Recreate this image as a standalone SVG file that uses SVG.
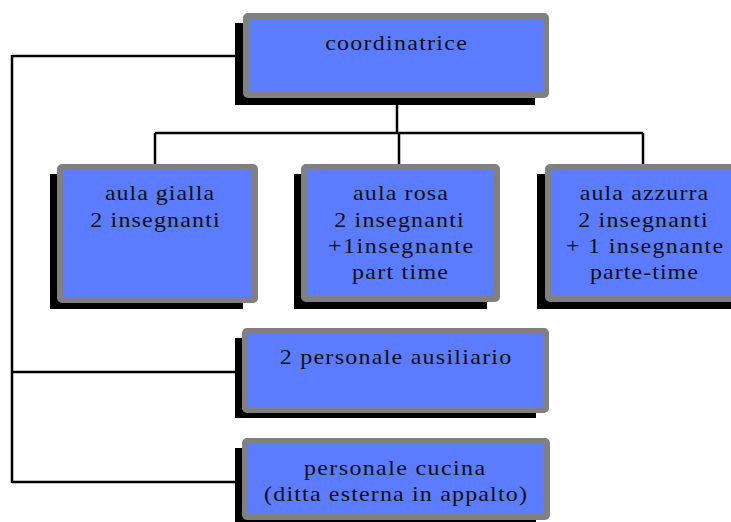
<svg xmlns="http://www.w3.org/2000/svg" width="731" height="522" viewBox="0 0 731 522">
<style>
.sh{fill:#000}
.bx{fill:#5C7CFF;stroke:#808080;stroke-width:6}
.t{font-family:"Liberation Serif","Times New Roman",serif;font-size:20px;fill:#111;text-anchor:middle}
.c{fill:none;stroke:#000;stroke-width:2.5}
</style>
<rect width="731" height="522" fill="#fff"/>
<g id="connectors">
<path class="c" d="M12,56 H236 M12,55 V483 M12,372 H236 M12,482 H236"/>
<path class="c" d="M397,98 V133 M155,133 H643 M155,133 V165 M399,133 V165 M643,133 V165"/>
</g>
<g id="coordinatrice">
<rect class="sh" x="235" y="23" width="300" height="82"/>
<rect class="bx" x="246" y="16" width="300" height="79" rx="2"/>
<text class="t" transform="translate(396,50) scale(1.2,1)" textLength="118" lengthAdjust="spacing">coordinatrice</text>
</g>
<g id="aula-gialla">
<rect class="sh" x="50" y="174" width="193" height="135"/>
<rect class="bx" x="60" y="167" width="195" height="133" rx="2"/>
<text class="t" transform="translate(159.5,200) scale(1.2,1)" textLength="91" lengthAdjust="spacing">aula gialla</text>
<text class="t" transform="translate(155,227) scale(1.2,1)" textLength="108" lengthAdjust="spacing">2 insegnanti</text>
</g>
<g id="aula-rosa">
<rect class="sh" x="294" y="174" width="193" height="135"/>
<rect class="bx" x="304" y="167" width="193" height="132" rx="2"/>
<text class="t" transform="translate(400.5,200) scale(1.2,1)" textLength="79" lengthAdjust="spacing">aula rosa</text>
<text class="t" transform="translate(399,227) scale(1.2,1)" textLength="108" lengthAdjust="spacing">2 insegnanti</text>
<text class="t" transform="translate(400.5,253) scale(1.2,1)" textLength="121" lengthAdjust="spacing">+1insegnante</text>
<text class="t" transform="translate(400,279) scale(1.2,1)" textLength="80" lengthAdjust="spacing">part time</text>
</g>
<g id="aula-azzurra">
<rect class="sh" x="537" y="174" width="200" height="135"/>
<rect class="bx" x="548" y="167" width="195" height="132" rx="2"/>
<text class="t" transform="translate(644,200) scale(1.2,1)" textLength="107" lengthAdjust="spacing">aula azzurra</text>
<text class="t" transform="translate(643,227) scale(1.2,1)" textLength="108" lengthAdjust="spacing">2 insegnanti</text>
<text class="t" transform="translate(644.5,253) scale(1.2,1)" textLength="131" lengthAdjust="spacing">+ 1 insegnante</text>
<text class="t" transform="translate(644,279) scale(1.2,1)" textLength="90" lengthAdjust="spacing">parte-time</text>
</g>
<g id="personale-ausiliario">
<rect class="sh" x="235" y="338" width="301" height="80"/>
<rect class="bx" x="245" y="331" width="301" height="79" rx="2"/>
<text class="t" transform="translate(395.5,364) scale(1.2,1)" textLength="193" lengthAdjust="spacing">2 personale ausiliario</text>
</g>
<g id="personale-cucina">
<rect class="sh" x="235" y="448" width="301" height="80"/>
<rect class="bx" x="245" y="441" width="302" height="76" rx="2"/>
<text class="t" transform="translate(394.5,475) scale(1.2,1)" textLength="151" lengthAdjust="spacing">personale cucina</text>
<text class="t" transform="translate(395.5,501) scale(1.2,1)" textLength="219" lengthAdjust="spacing">(ditta esterna in appalto)</text>
</g>
</svg>
